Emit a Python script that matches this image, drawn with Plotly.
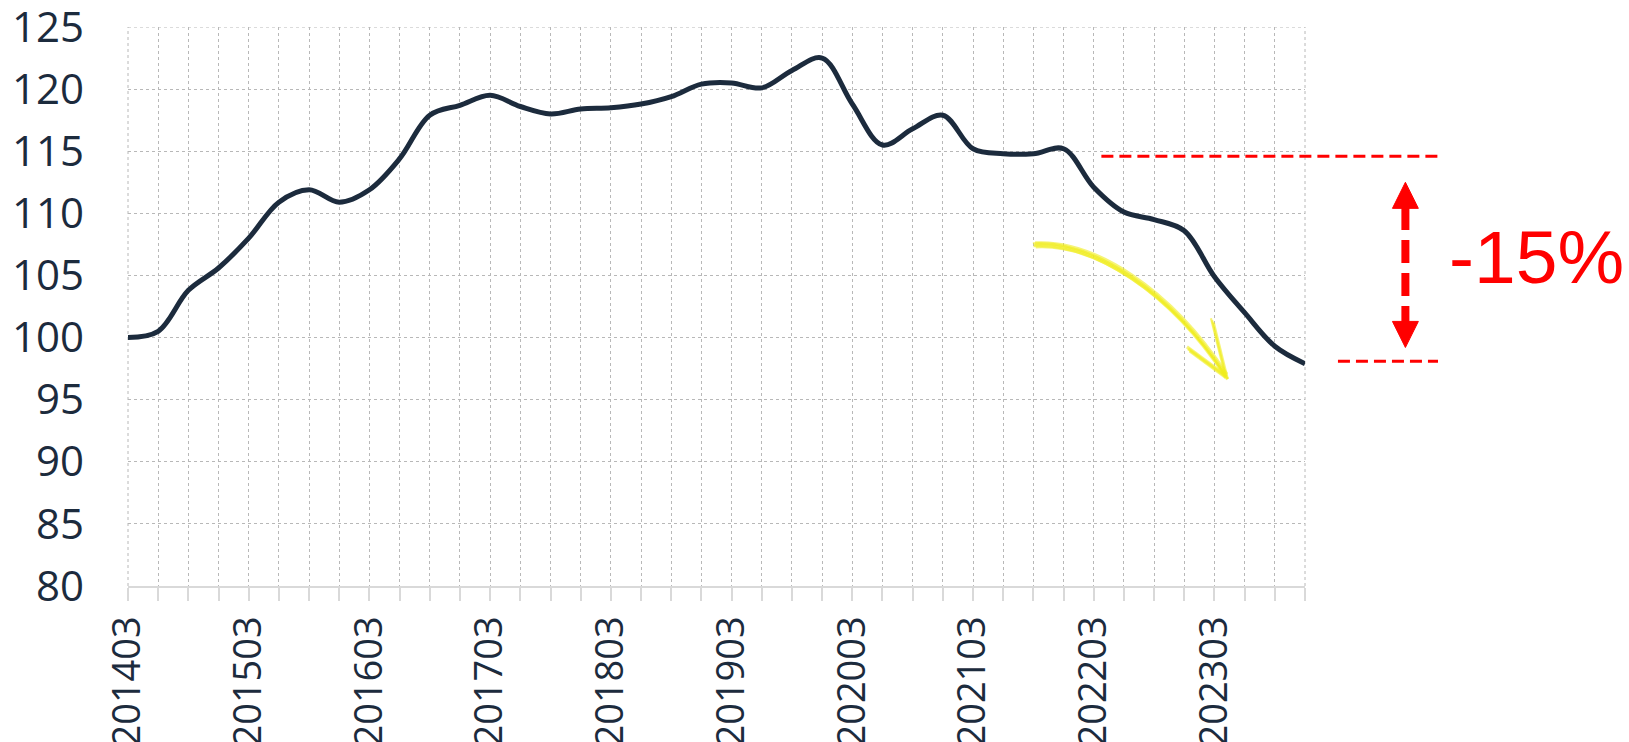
import plotly.graph_objects as go

# ---- data ----
quarters = [
    "201403", "201406", "201409", "201412",
    "201503", "201506", "201509", "201512",
    "201603", "201606", "201609", "201612",
    "201703", "201706", "201709", "201712",
    "201803", "201806", "201809", "201812",
    "201903", "201906", "201909", "201912",
    "202003", "202006", "202009", "202012",
    "202103", "202106", "202109", "202112",
    "202203", "202206", "202209", "202212",
    "202303", "202306", "202309", "202312",
]
index_values = [
    100.0, 100.5, 103.8, 105.6,
    108.0, 110.9, 111.9, 110.9,
    111.9, 114.4, 117.9, 118.7,
    119.5, 118.6, 118.0, 118.4,
    118.5, 118.8, 119.4, 120.4,
    120.5, 120.1, 121.5, 122.5,
    118.8, 115.5, 116.8, 117.9,
    115.2, 114.8, 114.8, 115.2,
    112.1, 110.1, 109.5, 108.6,
    104.9, 102.0, 99.3, 97.9,
]
tick_labels = [q if q.endswith("03") else "" for q in quarters]
y_ticks = [80, 85, 90, 95, 100, 105, 110, 115, 120, 125]

# annotation levels (value units)
peak_level = 114.6
trough_level = 98.1
change_label = "-15%"

NAVY = "#1c2b3d"
RED = "#ff0000"
GRID = "#b8b8b8"

fig = go.Figure()
fig.add_trace(go.Scatter(
    x=quarters, y=index_values, mode="lines",
    line=dict(color=NAVY, width=5, shape="spline", smoothing=1.0),
    cliponaxis=False, showlegend=False, hoverinfo="skip",
))

shapes = []
# top gridline and edge gridlines (dotted, like the inner grid)
shapes.append(dict(type="line", xref="paper", yref="y", x0=0, x1=1, y0=125, y1=125,
                   line=dict(color=GRID, width=1, dash="dot"), layer="below"))
shapes.append(dict(type="line", xref="paper", yref="paper", x0=0, x1=0, y0=0, y1=1,
                   line=dict(color=GRID, width=1, dash="dot"), layer="below"))
shapes.append(dict(type="line", xref="paper", yref="paper", x0=1, x1=1, y0=0, y1=1,
                   line=dict(color=GRID, width=1, dash="dot"), layer="below"))
# red dashed reference lines
shapes.append(dict(type="line", xref="paper", yref="y", x0=0.827, x1=1.113,
                   y0=peak_level, y1=peak_level,
                   line=dict(color=RED, width=3, dash="12px,6px")))
shapes.append(dict(type="line", xref="paper", yref="y", x0=1.028, x1=1.113,
                   y0=trough_level, y1=trough_level,
                   line=dict(color=RED, width=3, dash="12px,6px")))
# double arrow
xa = 1.0853
hw = 0.011
shapes.append(dict(type="line", xref="paper", yref="y", x0=xa, x1=xa,
                   y0=110.5, y1=101.2,
                   line=dict(color=RED, width=8, dash="23px,10px")))
shapes.append(dict(type="path", xref="paper", yref="y",
                   path=f"M {xa} 112.5 L {xa+hw} 110.4 L {xa-hw} 110.4 Z",
                   fillcolor=RED, line=dict(color=RED, width=1)))
shapes.append(dict(type="path", xref="paper", yref="y",
                   path=f"M {xa} 99.2 L {xa+hw} 101.3 L {xa-hw} 101.3 Z",
                   fillcolor=RED, line=dict(color=RED, width=1)))

# yellow hand-drawn arrow
YEL = "rgba(240,236,30,0.6)"
offsets = [(0.0, 0.0), (0.0014, -0.18), (-0.001, 0.15), (0.0006, 0.07),
           (-0.0005, -0.09), (0.0009, 0.22)]
for dx, dy in offsets:
    shapes.append(dict(
        type="path", xref="paper", yref="y",
        path=(f"M {0.7698+dx} {107.44+dy} C {0.82+dx} {107.7+dy}, "
              f"{0.885+dx} {103.8+dy}, {0.9330+dx} {96.85+dy}"),
        line=dict(color=YEL, width=2.2)))
for dx, dy in offsets[:3]:
    shapes.append(dict(type="path", xref="paper", yref="y",
                       path=f"M {0.9211+dx} {101.4+dy} L {0.9330+dx} {96.85+dy}",
                       line=dict(color=YEL, width=2.2)))
    shapes.append(dict(type="path", xref="paper", yref="y",
                       path=f"M {0.9007+dx} {99.1+dy} L {0.9330+dx} {96.85+dy}",
                       line=dict(color=YEL, width=3.2)))

fig.update_layout(
    width=1629, height=742,
    margin=dict(l=128, r=324, t=27, b=156, autoexpand=False),
    paper_bgcolor="white", plot_bgcolor="white",
    shapes=shapes,
    annotations=[dict(
        xref="paper", yref="y", x=1.1966, y=106.5, text=change_label,
        showarrow=False, xanchor="center", yanchor="middle",
        font=dict(family="Liberation Sans, Arial", size=75, color=RED),
    )],
    font=dict(family="Open Sans", color=NAVY),
)
fig.update_xaxes(
    type="category", range=[0, len(quarters) - 1], autorange=False,
    tickmode="array", tickvals=quarters, ticktext=tick_labels,
    tickangle=-90, tickfont=dict(size=38, color=NAVY, family="Open Sans"),
    ticks="outside", ticklen=13, tickwidth=2, tickcolor="#d9d9d9",
    ticklabelstandoff=0, ticklabeloverflow="allow",
    showgrid=True, gridcolor=GRID, gridwidth=1, griddash="dot",
    showline=True, linecolor="#d9d9d9", linewidth=2,
    zeroline=False,
)
fig.update_yaxes(
    range=[80, 125], autorange=False,
    tickmode="array", tickvals=y_ticks,
    tickfont=dict(size=42, color=NAVY, family="Open Sans"),
    ticks="", ticklabelstandoff=43, ticklabeloverflow="allow",
    showgrid=True, gridcolor=GRID, gridwidth=1, griddash="dot",
    showline=False, zeroline=False,
)

fig.write_html("out.html", config={"displayModeBar": False},
               post_script="document.body.style.margin='0px';")
